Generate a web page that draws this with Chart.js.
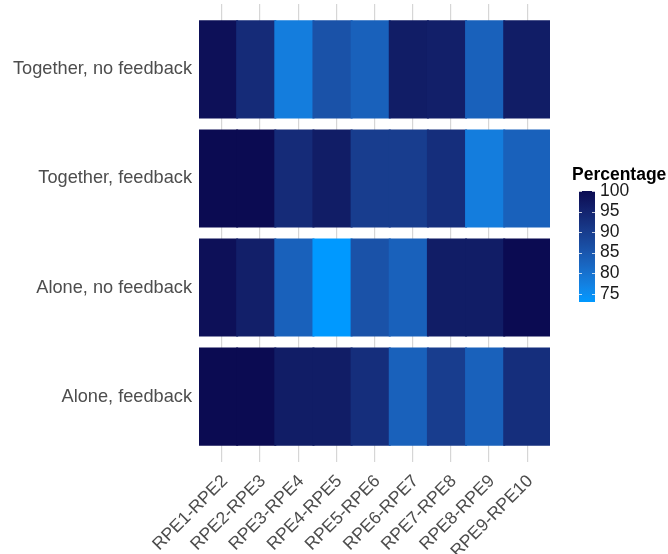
<!DOCTYPE html>
<html>
<head>
<meta charset="utf-8">
<title>RPE transitions heatmap</title>
<script src="https://cdn.jsdelivr.net/npm/chart.js@4/dist/chart.umd.min.js"></script>
<style>
  html, body { margin: 0; padding: 0; background: #ffffff; }
  canvas { display: block; }
</style>
</head>
<body>
<canvas id="heat" width="668" height="554"></canvas>
<script>
// Conditions (rows, top to bottom) and consecutive RPE pairs (columns)
const conditions = ['Together, no feedback', 'Together, feedback', 'Alone, no feedback', 'Alone, feedback'];
const rpePairs = ['RPE1-RPE2', 'RPE2-RPE3', 'RPE3-RPE4', 'RPE4-RPE5', 'RPE5-RPE6',
                  'RPE6-RPE7', 'RPE7-RPE8', 'RPE8-RPE9', 'RPE9-RPE10'];

// Percentage per condition and RPE pair
const togetherNoFeedback = [99, 93.5, 78, 86, 83, 96.5, 96, 83, 96.5];
const togetherFeedback   = [100, 100, 93.5, 96.5, 90, 90, 93, 78, 83];
const aloneNoFeedback    = [99, 96, 83, 73, 86, 83, 96.5, 96.5, 100];
const aloneFeedback      = [100, 100, 96.5, 96.5, 93, 83, 90, 83, 93];

// Colour bar breaks
const legendTicks = [75, 80, 85, 90, 95, 100];

const rowValues = [togetherNoFeedback, togetherFeedback, aloneNoFeedback, aloneFeedback];

// ---- sequential fill scale, interpolated in CIELAB ----
const LOW_COLOUR = '#0099FF';
const HIGH_COLOUR = '#0B0B52';

function hexToRgb(h) {
  return [parseInt(h.slice(1, 3), 16), parseInt(h.slice(3, 5), 16), parseInt(h.slice(5, 7), 16)];
}
function toLinear(c) { c /= 255; return c <= 0.04045 ? c / 12.92 : Math.pow((c + 0.055) / 1.055, 2.4); }
function fromLinear(c) {
  const v = c <= 0.0031308 ? 12.92 * c : 1.055 * Math.pow(c, 1 / 2.4) - 0.055;
  return Math.round(Math.max(0, Math.min(1, v)) * 255);
}
const WX = 0.95047, WY = 1.0, WZ = 1.08883;
function rgbToLab(rgb) {
  const [r, g, b] = rgb.map(toLinear);
  const x = (0.4124 * r + 0.3576 * g + 0.1805 * b) / WX;
  const y = (0.2126 * r + 0.7152 * g + 0.0722 * b) / WY;
  const z = (0.0193 * r + 0.1192 * g + 0.9505 * b) / WZ;
  const f = t => t > 0.008856 ? Math.cbrt(t) : 7.787 * t + 16 / 116;
  const fx = f(x), fy = f(y), fz = f(z);
  return [116 * fy - 16, 500 * (fx - fy), 200 * (fy - fz)];
}
function labToRgb(lab) {
  const [L, a, bb] = lab;
  const fy = (L + 16) / 116, fx = fy + a / 500, fz = fy - bb / 200;
  const fi = t => { const t3 = t * t * t; return t3 > 0.008856 ? t3 : (t - 16 / 116) / 7.787; };
  const x = fi(fx) * WX, y = fi(fy) * WY, z = fi(fz) * WZ;
  const r = 3.2406 * x - 1.5372 * y - 0.4986 * z;
  const g = -0.9689 * x + 1.8758 * y + 0.0415 * z;
  const b = 0.0557 * x - 0.2040 * y + 1.0570 * z;
  return [fromLinear(r), fromLinear(g), fromLinear(b)];
}
const lowLab = rgbToLab(hexToRgb(LOW_COLOUR));
const highLab = rgbToLab(hexToRgb(HIGH_COLOUR));

const allValues = rowValues.flat();
const fillMin = Math.min(...allValues);
const fillMax = Math.max(...allValues);

function fillFor(v) {
  const t = Math.max(0, Math.min(1, (v - fillMin) / (fillMax - fillMin)));
  const lab = lowLab.map((c, i) => c + (highLab[i] - c) * t);
  const rgb = labToRgb(lab);
  return 'rgb(' + rgb.join(',') + ')';
}

// ---- tiles as floating horizontal bars ----
const tiles = [];
const tileColours = [];
rowValues.forEach((vals, r) => {
  vals.forEach((v, c) => {
    const left = c + 1 - 0.6;
    const right = c === vals.length - 1 ? vals.length + 0.6 : c + 1 + 0.4;
    tiles.push({ y: r + 1, x: [left, right], value: v });
    tileColours.push(fillFor(v));
  });
});

const Y_FONT = { family: '"Liberation Sans", Arial, sans-serif', size: 18.2 };
const X_FONT = { family: '"Liberation Sans", Arial, sans-serif', size: 17.6 };
const AXIS_COLOUR = '#4D4D4D';

// ---- colour bar guide ----
const colourBar = {
  id: 'colourBar',
  afterDraw(chart) {
    const ctx = chart.ctx;
    const x0 = 579, w = 16, yTop = 191, yBottom = 302;
    const yFor = v => yTop + (fillMax - v) / (fillMax - fillMin) * (yBottom - yTop);

    ctx.save();
    const grad = ctx.createLinearGradient(0, yBottom, 0, yTop);
    for (let i = 0; i <= 40; i++) {
      const v = fillMin + (fillMax - fillMin) * i / 40;
      grad.addColorStop(i / 40, fillFor(v));
    }
    ctx.fillStyle = grad;
    ctx.fillRect(x0, yTop, w, yBottom - yTop);

    // break marks on both edges of the bar
    ctx.strokeStyle = 'rgba(255,255,255,0.75)';
    ctx.lineWidth = 1;
    legendTicks.forEach(t => {
      const y = Math.round(yFor(t)) + 0.5;
      ctx.beginPath();
      ctx.moveTo(x0, y); ctx.lineTo(x0 + 3, y);
      ctx.moveTo(x0 + w - 3, y); ctx.lineTo(x0 + w, y);
      ctx.stroke();
    });

    ctx.fillStyle = '#1A1A1A';
    ctx.textBaseline = 'middle';
    ctx.textAlign = 'left';
    ctx.font = '17.5px "Liberation Sans", Arial, sans-serif';
    legendTicks.forEach(t => ctx.fillText(String(t), 600, yFor(t)));

    ctx.fillStyle = '#000000';
    ctx.font = 'bold 17.5px "Liberation Sans", Arial, sans-serif';
    ctx.fillText('Percentage', 572, 175);
    ctx.restore();
  }
};

new Chart(document.getElementById('heat'), {
  type: 'bar',
  data: {
    datasets: [{
      label: 'Percentage',
      data: tiles,
      backgroundColor: tileColours,
      borderWidth: 0,
      inflateAmount: 1,
      barPercentage: 0.882,
      categoryPercentage: 1.0
    }]
  },
  options: {
    indexAxis: 'y',
    responsive: false,
    animation: false,
    devicePixelRatio: 1,
    layout: { padding: { left: 0, right: 118, top: 4, bottom: 0 } },
    plugins: {
      legend: { display: false },
      tooltip: { enabled: false },
      title: { display: false }
    },
    scales: {
      x: {
        type: 'linear',
        offset: false,
        min: 0.4,
        max: rpePairs.length + 0.6,
        afterBuildTicks(scale) {
          scale.ticks = rpePairs.map((_, i) => ({ value: i + 1 }));
        },
        afterFit(scale) {
          scale.height = 92;
          scale.paddingLeft = 0;
          scale.paddingRight = 0;
        },
        ticks: {
          autoSkip: false,
          minRotation: 45,
          maxRotation: 45,
          padding: 9,
          labelOffset: 3,
          color: AXIS_COLOUR,
          font: X_FONT,
          callback: v => rpePairs[Math.round(v) - 1]
        },
        grid: { color: '#D6D6D6', lineWidth: 1.2, drawTicks: false },
        border: { display: false }
      },
      y: {
        type: 'linear',
        offset: false,
        reverse: true,
        min: 0.4,
        max: conditions.length + 0.6,
        afterBuildTicks(scale) {
          scale.ticks = conditions.map((_, i) => ({ value: i + 1 }));
        },
        afterFit(scale) {
          scale.width = 199;
          scale.paddingTop = 0;
          scale.paddingBottom = 0;
        },
        ticks: {
          autoSkip: false,
          padding: 7,
          color: AXIS_COLOUR,
          font: Y_FONT,
          callback: v => conditions[Math.round(v) - 1]
        },
        grid: { display: false, drawTicks: false },
        border: { display: false }
      }
    }
  },
  plugins: [colourBar]
});
</script>
</body>
</html>
